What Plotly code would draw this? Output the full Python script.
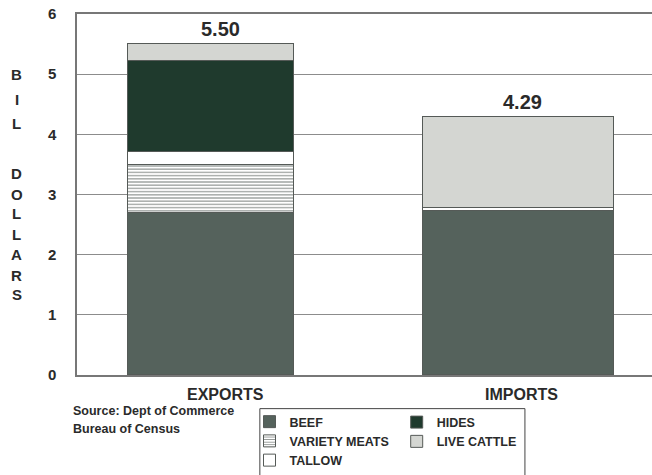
import plotly.graph_objects as go

# Cattle and product trade, billion dollars
categories = ["EXPORTS", "IMPORTS"]
beef = [2.70, 2.72]
variety_meats = [0.79, 0.00]
tallow = [0.22, 0.05]
hides = [1.51, 0.00]
live_cattle = [0.28, 1.52]
y_ticks = [0, 1, 2, 3, 4, 5, 6]

positions = [0, 1]
bar_widths = [0.54, 0.62]
totals = [sum(v) for v in zip(beef, variety_meats, tallow, hides, live_cattle)]

FONT = "Liberation Sans, Arial, sans-serif"
TEXT = "#2a2a2a"
EDGE = "#555a57"

# plot area geometry (pixels) used to place the free text
TOP, BOTTOM = 14, 379
H = BOTTOM - TOP


def paper_y(py):
    return (BOTTOM - py) / H


fig = go.Figure()

series = [
    ("BEEF", beef, "#55625c", None, "legend", 1),
    ("VARIETY MEATS", variety_meats, "#ffffff", "-", "legend", 2),
    ("TALLOW", tallow, "#ffffff", None, "legend", 3),
    ("HIDES", hides, "#1f3a2d", None, "legend2", 1),
    ("LIVE CATTLE", live_cattle, "#d4d6d2", None, "legend2", 2),
]

for name, vals, color, shape, leg, rank in series:
    marker = dict(color=color, line=dict(color=EDGE, width=1))
    if shape:
        marker["pattern"] = dict(shape=shape, fgcolor="#8a8f8c", bgcolor="#ffffff",
                                 size=3.2, solidity=0.35, fillmode="replace")
    fig.add_trace(go.Bar(
        x=positions, y=vals, width=bar_widths, name=name, marker=marker,
        legend=leg, legendrank=rank, hoverinfo="skip",
    ))

# Totals above each bar
for xp, tot in zip(positions, totals):
    fig.add_annotation(x=xp, y=tot, text=f"<b>{tot:.2f}</b>", showarrow=False,
                       yanchor="bottom", yshift=2, xshift=10 if xp == 0 else 4,
                       font=dict(family=FONT, size=20, color=TEXT))

# Category labels under the bars
for xp, cat, dx in zip(positions, categories, [15, 3]):
    fig.add_annotation(x=xp, y=0, text=f"<b>{cat}</b>", showarrow=False,
                       yanchor="top", yshift=-9, xshift=dx,
                       font=dict(family=FONT, size=16, color=TEXT))

# Vertical axis title, one letter per row
letters = ["B", "I", "L", "D", "O", "L", "L", "A", "R", "S"]
letter_rows = [75, 100, 125, 175, 196, 216, 237, 257, 278, 298]
for ch, py in zip(letters, letter_rows):
    fig.add_annotation(xref="paper", yref="paper", x=-0.105, y=paper_y(py),
                       text=f"<b>{ch}</b>", showarrow=False,
                       xanchor="center", yanchor="middle",
                       font=dict(family=FONT, size=15, color=TEXT))

# Source note
for line, py in zip(["Source: Dept of Commerce", "Bureau of Census"], [415, 434]):
    fig.add_annotation(xref="paper", yref="paper", x=-0.01, y=paper_y(py),
                       text=f"<b>{line}</b>", showarrow=False,
                       xanchor="left", yanchor="middle", align="left",
                       font=dict(family=FONT, size=12.5, color=TEXT))

# Frame around the two legend columns
fig.add_shape(type="rect", xref="paper", yref="paper",
              x0=0.318, x1=0.779, y0=paper_y(413), y1=paper_y(490),
              line=dict(color="#444", width=1), fillcolor="rgba(0,0,0,0)")

legend_style = dict(orientation="v", bgcolor="rgba(0,0,0,0)", borderwidth=0,
                    font=dict(family=FONT, size=12.5, color=TEXT, weight="bold"),
                    xanchor="left", yanchor="top", yref="paper", tracegroupgap=0,
                    itemwidth=30, traceorder="normal")

fig.update_layout(
    width=652, height=475,
    margin=dict(l=77, r=0, t=TOP, b=475 - BOTTOM),
    paper_bgcolor="white", plot_bgcolor="white",
    barmode="stack", bargap=0,
    font=dict(family=FONT, color=TEXT),
    showlegend=True,
    legend=dict(**legend_style, x=0.3, y=-0.09),
    legend2=dict(**legend_style, x=0.556, y=-0.09),
    xaxis=dict(
        tickmode="array", tickvals=positions, showticklabels=False,
        range=[-0.435, 1.432], showgrid=False, zeroline=False,
        showline=True, linecolor="#777", linewidth=1.5, mirror=True, ticks="",
    ),
    yaxis=dict(
        range=[0, 6], tickvals=y_ticks,
        ticktext=[f"<b>{t}</b>" for t in y_ticks],
        showgrid=True, gridcolor="#8c8c8c", gridwidth=1, zeroline=False,
        showline=True, linecolor="#777", linewidth=1.5,
        tickfont=dict(family=FONT, size=15, color=TEXT), ticks="",
        ticklabelstandoff=16,
    ),
)

fig.write_html("out.html")
